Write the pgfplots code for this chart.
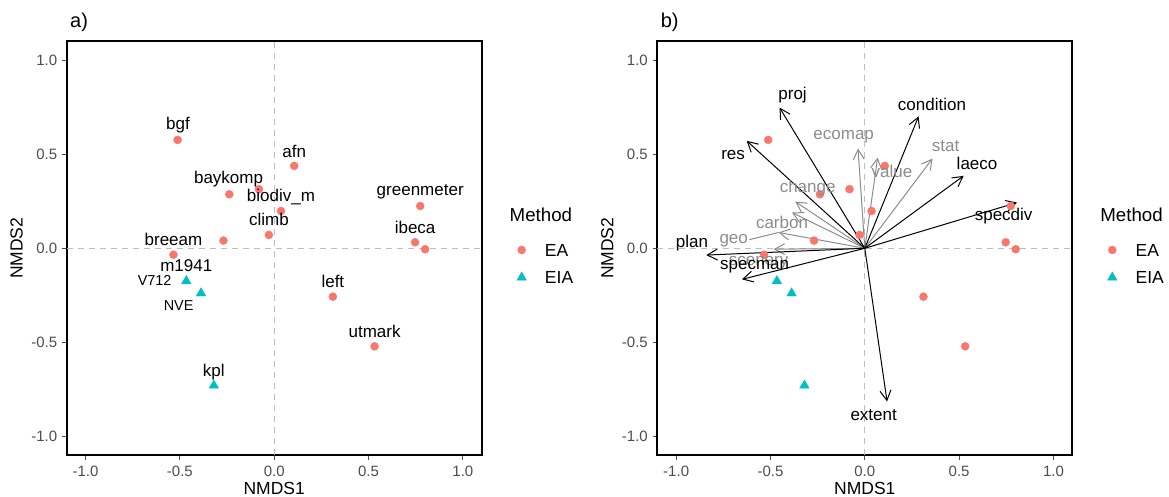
\documentclass[border=0pt]{standalone}
\usepackage{fontspec}
\setmainfont{Liberation Sans}
\usepackage{pgfplots}
\usepackage{pgfplotstable}
\pgfplotsset{compat=1.18}
\usetikzlibrary{arrows.meta}
\definecolor{ea}{HTML}{F8766D}
\definecolor{eia}{HTML}{00BFC4}
\definecolor{tickgray}{HTML}{4D4D4D}
\definecolor{zero}{HTML}{BEBEBE}
\definecolor{soft}{HTML}{8C8C8C}
\newcommand\fs[1]{\fontsize{#1}{#1}\selectfont}

% site scores (both panels)
\pgfplotstableread{
x y
-0.512 0.576
0.106 0.438
-0.238 0.287
-0.081 0.314
0.036 0.198
-0.028 0.071
-0.269 0.041
-0.534 -0.034
0.774 0.225
0.747 0.032
0.800 -0.005
0.311 -0.257
0.532 -0.521
}\eapts
\pgfplotstableread{
x y
-0.466 -0.174
-0.388 -0.239
-0.320 -0.729
}\eiapts

% panel a labels
\pgfplotstableread{
x y label
-0.510 0.654 bgf
0.106 0.514 afn
-0.242 0.367 baykomp
0.036 0.275 biodiv\_m
-0.028 0.151 climb
0.774 0.302 greenmeter
0.747 0.112 ibeca
-0.534 0.046 breeam
-0.466 -0.094 m1941
0.311 -0.177 left
0.532 -0.440 utmark
-0.320 -0.656 kpl
}\labsa
\pgfplotstableread{
x y label
-0.634 -0.170 V712
-0.507 -0.303 NVE
}\labsasmall

% panel b vectors
\pgfplotstableread{
x y u v
0 0 -0.452 0.748
0 0 -0.626 0.571
0 0 0.285 0.701
0 0 0.524 0.385
0 0 0.807 0.243
0 0 -0.840 -0.036
0 0 -0.651 -0.165
0 0 0.118 -0.814
}\blackvec
\pgfplotstableread{
x y u v
0 0 -0.036 0.530
0 0 0.068 0.482
0 0 0.359 0.477
0 0 -0.368 0.248
0 0 -0.386 0.190
0 0 -0.457 0.084
0 0 -0.483 -0.005
}\grayvec
\pgfplotstableread{
x y label
-0.383 0.814 proj
-0.698 0.495 res
0.356 0.766 condition
0.595 0.451 laeco
0.736 0.169 specdiv
-0.916 0.030 plan
-0.584 -0.099 specman
0.047 -0.888 extent
}\blacklab
\pgfplotstableread{
x y label
-0.112 0.594 ecomap
0.144 0.408 value
0.428 0.541 stat
-0.303 0.321 change
-0.439 0.140 carbon
-0.695 0.039 geo
-0.563 -0.076 scenery
}\graylab

\pgfplotsset{
  ordi/.style={
    scale only axis, width=415pt, height=414pt,
    xmin=-1.1, xmax=1.1, ymin=-1.1, ymax=1.1,
    xtick={-1,-0.5,0,0.5,1}, ytick={-1,-0.5,0,0.5,1},
    tick pos=left, tick align=outside,
    major tick length=4.3pt,
    every tick/.style={tickgray, line width=1pt},
    axis line style={black, line width=1.7pt},
    ticklabel style={font=\fs{15}, text=tickgray},
    /pgf/number format/fixed, /pgf/number format/fixed zerofill,
    /pgf/number format/precision=1, /pgf/number format/assume math mode=true,
    xticklabel style={anchor=north, inner sep=0pt, yshift=-6pt},
    yticklabel style={anchor=east, inner sep=0pt, xshift=-5pt},
    xlabel={NMDS1}, ylabel={NMDS2},
    label style={font=\fs{17.5}},
    xlabel style={at={(axis description cs:0.5,-0.094)}, anchor=base},
    ylabel style={at={(axis description cs:-0.1205,0.5)}, anchor=center},
    clip=false,
    legend cell align=left,
    legend style={at={(axis description cs:1.0843,0.511)}, anchor=north west,
      draw=none, fill=none, inner sep=0pt, outer sep=0pt, row sep=15pt,
      font=\fs{17.5}, nodes={inner sep=0pt, text height=12.5pt, text depth=0pt}},
    legend image code/.code={\path[draw=none, fill=none] (-5pt,-5pt) rectangle (23.3pt,5pt);
      \draw[##1] plot coordinates {(0pt,0pt)};},
  },
  zeroline/.style={forget plot, zero, line width=1.2pt, dash pattern=on 6pt off 5pt},
  labs/.style={forget plot, only marks, mark=none, nodes near coords,
    point meta=explicit symbolic,
    every node near coord/.style={anchor=center, inner sep=0pt, font=\fs{#1}}},
}

\begin{document}
\begin{tikzpicture}
\useasboundingbox (0pt,0pt) rectangle (1169pt,497pt);

\begin{axis}[ordi, at={(66.7pt,41.7pt)}, anchor=south west]
\addplot[zeroline] coordinates {(-1.1,0) (1.1,0)};
\addplot[zeroline] coordinates {(0,-1.1) (0,1.1)};
\addplot[only marks, mark=*, mark size=4pt, color=ea] table {\eapts};
\addlegendentry{EA}
\addplot[only marks, mark=triangle*, mark size=5.5pt, color=eia] table {\eiapts};
\addlegendentry{EIA}
\addplot[labs=17, black] table[meta=label] {\labsa};
\addplot[labs=14.4, black] table[meta=label] {\labsasmall};
\node[anchor=base west, font=\fs{20}] at (axis description cs:0,1.033) {a)};
\node[anchor=west, font=\fs{18.7}] at (axis description cs:1.059,0.580) {Method};
\end{axis}

\begin{axis}[ordi, at={(657.3pt,41.7pt)}, anchor=south west]
\addplot[zeroline] coordinates {(-1.1,0) (1.1,0)};
\addplot[zeroline] coordinates {(0,-1.1) (0,1.1)};
\addplot[only marks, mark=*, mark size=4pt, color=ea] table {\eapts};
\addlegendentry{EA}
\addplot[only marks, mark=triangle*, mark size=5.5pt, color=eia] table {\eiapts};
\addlegendentry{EIA}
\addplot[forget plot, soft, line width=1pt, -{Straight Barb[length=10pt, width=11pt]},
  quiver={u=\thisrow{u}, v=\thisrow{v}}] table {\grayvec};
\addplot[forget plot, black, line width=1pt, -{Straight Barb[length=10pt, width=11pt]},
  quiver={u=\thisrow{u}, v=\thisrow{v}}] table {\blackvec};
\addplot[forget plot, soft, line width=1pt] coordinates {(-0.612,0.046) (-0.457,0.084)};
\addplot[labs=17, soft] table[meta=label] {\graylab};
\addplot[labs=17, black] table[meta=label] {\blacklab};
\node[anchor=base west, font=\fs{20}] at (axis description cs:0,1.033) {b)};
\node[anchor=west, font=\fs{18.7}] at (axis description cs:1.059,0.580) {Method};
\end{axis}
\end{tikzpicture}
\end{document}
